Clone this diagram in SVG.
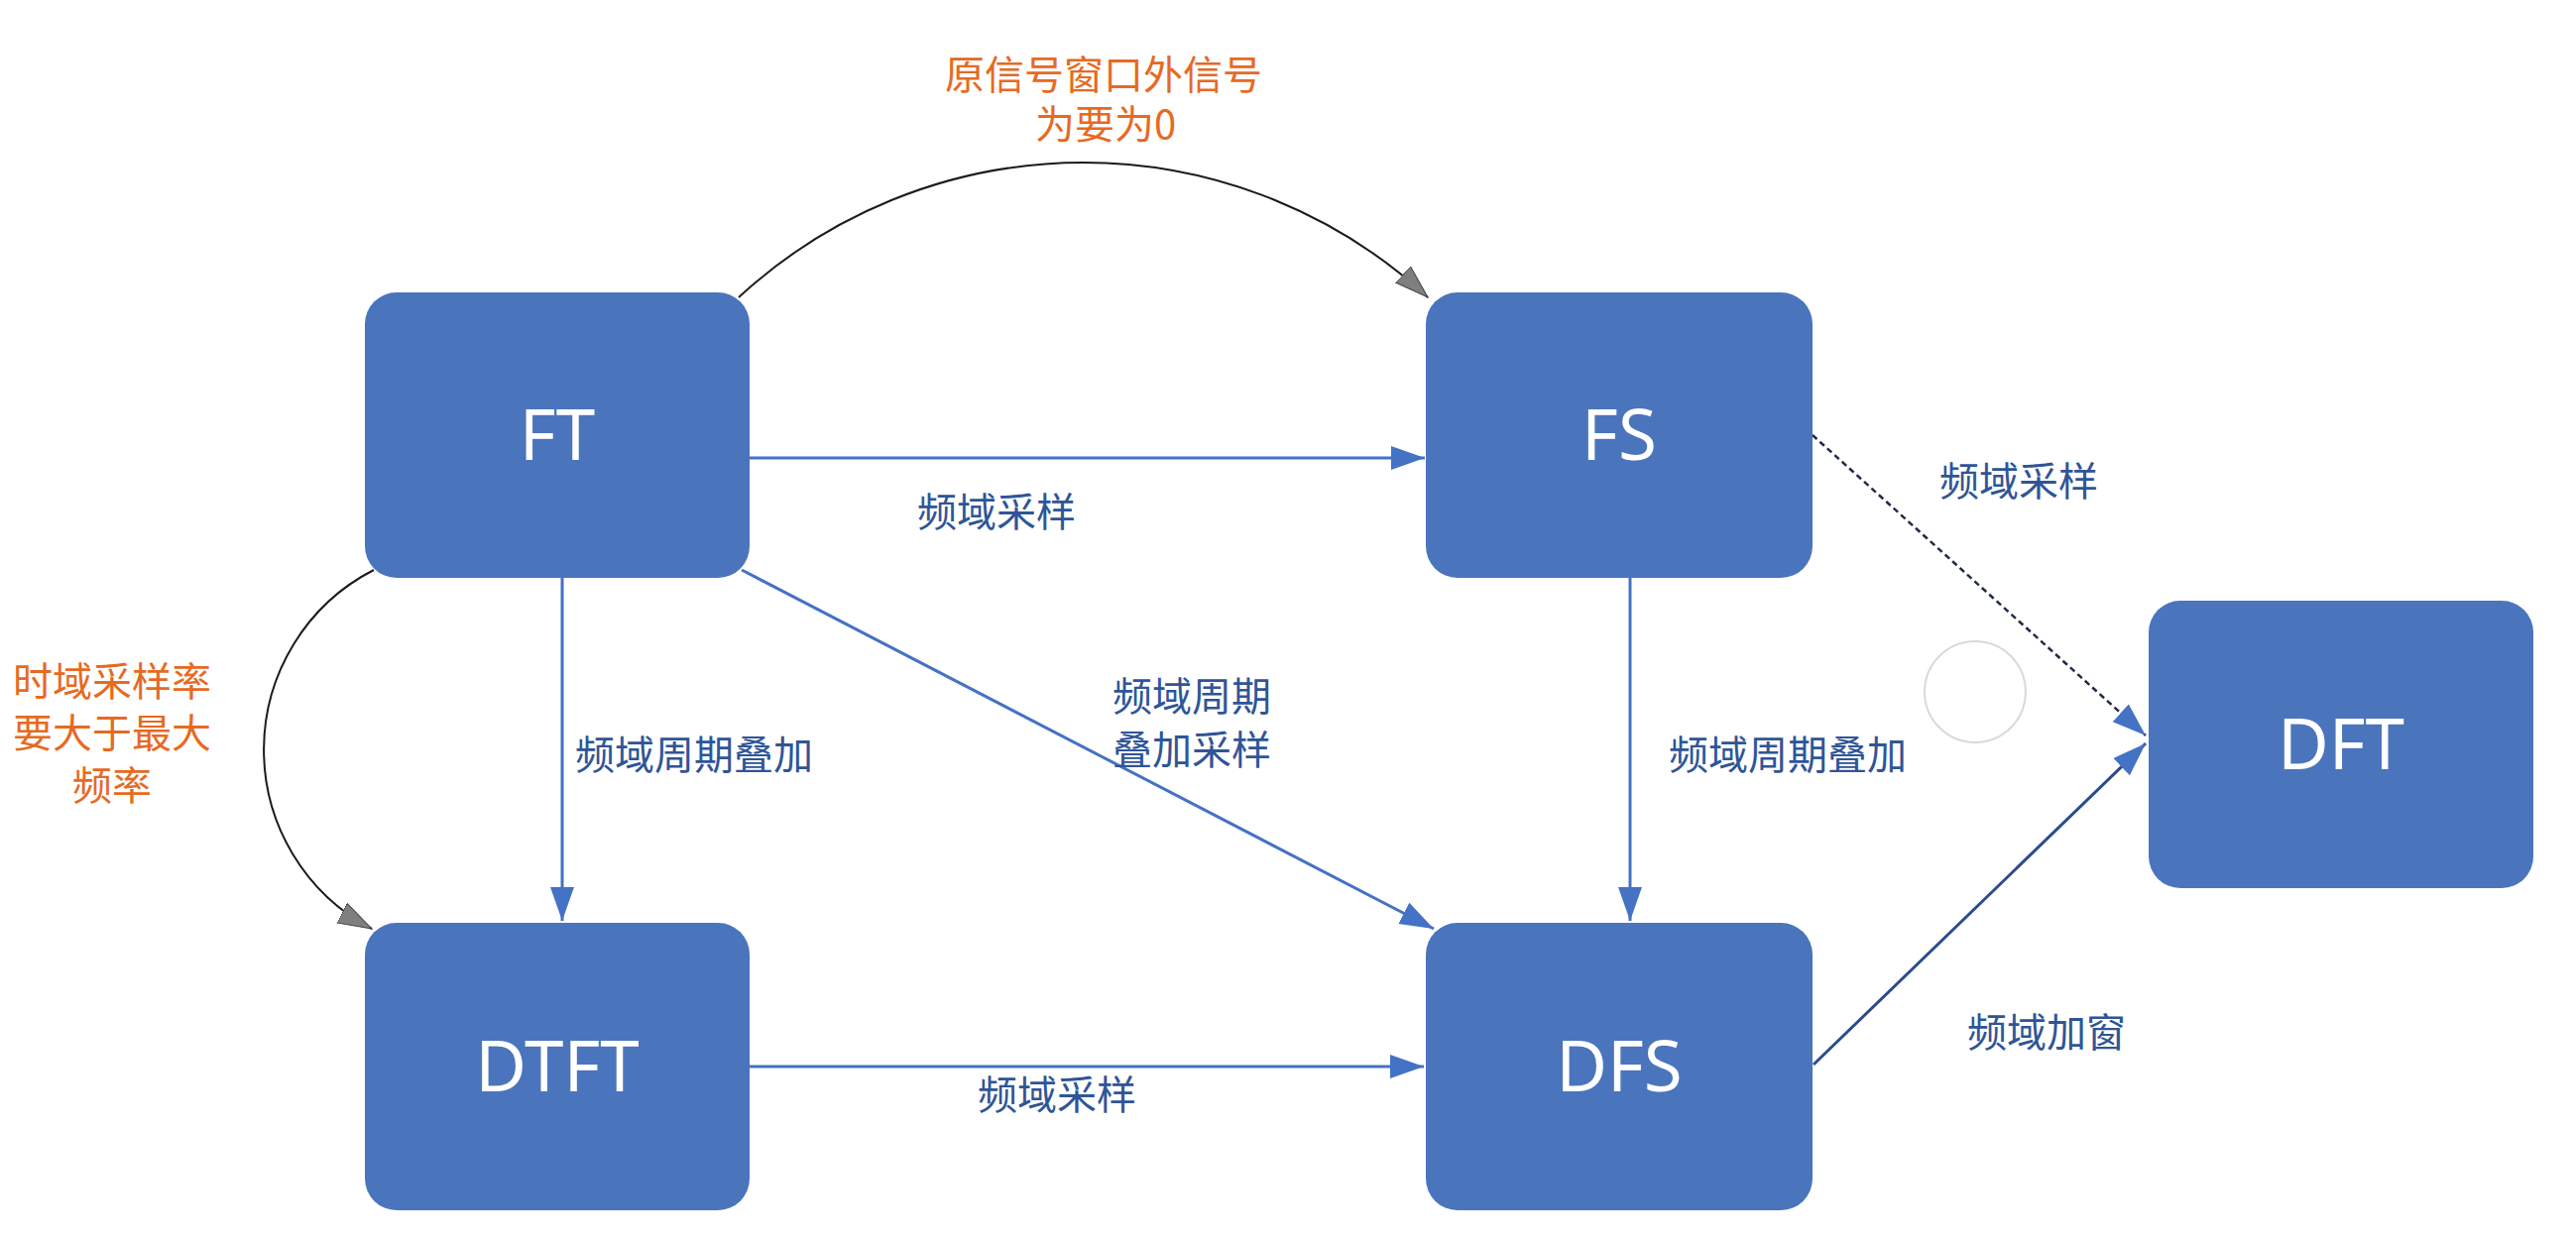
<svg xmlns="http://www.w3.org/2000/svg" width="2598" height="1252" viewBox="0 0 2598 1252">
<style>
.node rect{fill:#4A75BD;}
.node text{fill:#FFFFFF;font-family:"Noto Sans","Open Sans","Liberation Sans",sans-serif;font-size:71px;text-anchor:middle;}
.lbl{fill:#2F5597;font-family:"Noto Sans CJK SC","Noto Sans",sans-serif;font-size:40px;text-anchor:middle;}
.org{fill:#E66A22;font-family:"Noto Sans CJK SC","Noto Sans",sans-serif;font-size:40px;text-anchor:middle;}
.blue{stroke:#4472C4;stroke-width:3;fill:none;marker-end:url(#ab);}
.curve{stroke:#1A1A1A;stroke-width:2;fill:none;marker-end:url(#ag);}
</style>
<defs>
<marker id="ab" markerUnits="userSpaceOnUse" markerWidth="36" markerHeight="26" refX="34" refY="12" orient="auto">
<path d="M0,0 L34,12 L0,24 z" fill="#4472C4"/>
</marker>
<marker id="ag" markerUnits="userSpaceOnUse" markerWidth="36" markerHeight="26" refX="34" refY="12" orient="auto">
<path d="M0,1 L34,12 L0,23 z" fill="#7F7F7F" stroke="#404040" stroke-width="1"/>
</marker>
</defs>
<rect width="2598" height="1252" fill="#FFFFFF"/>
<g id="connectors">
<path class="curve" d="M745,300 A512,512 0 0 1 1440,300"/>
<path class="curve" d="M377,575 A204,204 0 0 0 375,937"/>
<line class="blue" x1="756" y1="462" x2="1437" y2="462"/>
<line class="blue" x1="567" y1="583" x2="567" y2="929"/>
<line class="blue" x1="748" y1="575" x2="1446" y2="937"/>
<line class="blue" x1="756" y1="1076" x2="1436" y2="1076"/>
<line class="blue" x1="1644" y1="583" x2="1644" y2="929"/>
<line x1="1828" y1="439" x2="2164" y2="742" stroke="#1F2A44" stroke-width="2.5" stroke-dasharray="6 4" fill="none" marker-end="url(#ab)"/>
<line x1="1829" y1="1074" x2="2164" y2="750" stroke="#2B4C8C" stroke-width="3" fill="none" marker-end="url(#ab)"/>
<circle cx="1992" cy="698" r="51" fill="none" stroke="#D9D9D9" stroke-width="2"/>
</g>
<g id="labels">
<text class="org" x="1113" y="90">原信号窗口外信号<tspan x="1115" dy="50">为要为0</tspan></text>
<text class="lbl" x="1005" y="531">频域采样</text>
<text class="org" x="113" y="702">时域采样率<tspan x="113" dy="52">要大于最大</tspan><tspan x="113" dy="53">频率</tspan></text>
<text class="lbl" x="700" y="776">频域周期叠加</text>
<text class="lbl" x="1202" y="717">频域周期<tspan x="1202" dy="54">叠加采样</tspan></text>
<text class="lbl" x="1066" y="1119">频域采样</text>
<text class="lbl" x="1803" y="776">频域周期叠加</text>
<text class="lbl" x="2036" y="500">频域采样</text>
<text class="lbl" x="2064" y="1056">频域加窗</text>
</g>
<g id="FT" class="node"><rect x="368" y="295" width="388" height="288" rx="32"/><text x="562" y="464">FT</text></g>
<g id="FS" class="node"><rect x="1438" y="295" width="390" height="288" rx="32"/><text x="1633" y="464">FS</text></g>
<g id="DTFT" class="node"><rect x="368" y="931" width="388" height="290" rx="32"/><text x="562" y="1101">DTFT</text></g>
<g id="DFS" class="node"><rect x="1438" y="931" width="390" height="290" rx="32"/><text x="1633" y="1101">DFS</text></g>
<g id="DFT" class="node"><rect x="2167" y="606" width="388" height="290" rx="32"/><text x="2361" y="776">DFT</text></g>
</svg>
